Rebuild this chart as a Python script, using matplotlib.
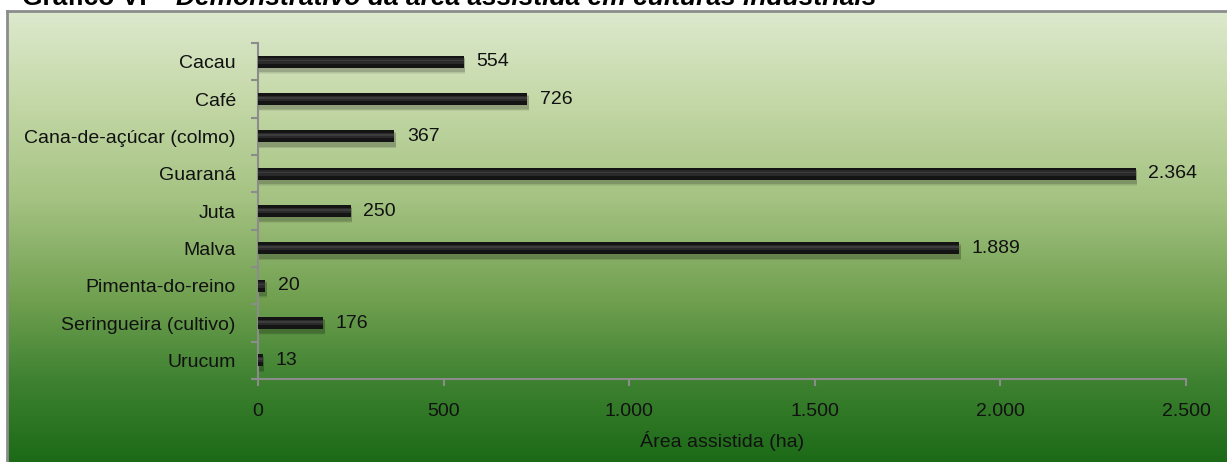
import numpy as np
import matplotlib
matplotlib.use("Agg")
import matplotlib.pyplot as plt
from matplotlib.colors import LinearSegmentedColormap

categories = ["Cacau", "Café", "Cana-de-açúcar (colmo)", "Guaraná", "Juta",
              "Malva", "Pimenta-do-reino", "Seringueira (cultivo)", "Urucum"]
values = [554, 726, 367, 2364, 250, 1889, 20, 176, 13]
xticks = [0, 500, 1000, 1500, 2000, 2500]
xlabel = "Área assistida (ha)"
title_a = "Gráfico VI – "
title_b = "Demonstrativo da área assistida em culturas industriais"

plt.rcParams['font.family'] = ["Liberation Sans", 'DejaVu Sans']

def fmt(v):
    return f"{v:,}".replace(",", ".")

W, H = 1227, 462
fig = plt.figure(figsize=(W / 100, H / 100), dpi=100)
fig.patch.set_facecolor("white")

# gradient background frame
bx0, by1 = 7 / W, 1 - 11 / H
bg = fig.add_axes([bx0, 0, 1 - bx0, by1], zorder=0)
cmap = LinearSegmentedColormap.from_list(
    "g", [(0, "#dde9cd"), (0.2, "#c4d8a7"), (0.42, "#a4c281"),
          (0.64, "#70a050"), (0.82, "#3e8231"), (1.0, "#1c6a17")])
grad = np.linspace(0, 1, 256).reshape(-1, 1)
bg.imshow(grad, aspect="auto", cmap=cmap, extent=[0, 1, 0, 1], origin="upper")
bg.set_xlim(0, 1); bg.set_ylim(0, 1)
bg.set_xticks([]); bg.set_yticks([])
for s in ["right", "bottom"]:
    bg.spines[s].set_visible(False)
for s in ["left", "top"]:
    bg.spines[s].set_color("#8c8c8c")
    bg.spines[s].set_linewidth(2)

ax = fig.add_axes([258 / W, 1 - 379 / H, (1186 - 258) / W, (379 - 43) / H], zorder=2)
ax.patch.set_alpha(0)
n = len(categories)
y = np.arange(n)
ax.set_ylim(n - 0.5, -0.5)
ax.set_xlim(0, 2500)

h = 0.32
# soft shadow
for k, a in enumerate([0.06, 0.06, 0.07, 0.08]):
    ax.barh(y + 0.1, values, height=h + 0.12 - 0.03 * k, left=4, color="black",
            alpha=a, zorder=2, linewidth=0)
ax.barh(y, values, height=h, color="#141414", zorder=3, linewidth=0)
ax.barh(y - 0.02, values, height=h * 0.45, color="#2a2a2a", zorder=4, linewidth=0)
ax.barh(y - 0.03, values, height=h * 0.15, color="#3c3c3c", zorder=5, linewidth=0)

fs = 14
tc = "#111111"
for yi, v in zip(y, values):
    ax.annotate(fmt(v), (v, yi), xytext=(9, 0), textcoords="offset points",
                ha="left", va="center", fontsize=fs, color=tc)

ax.set_yticks(np.arange(n + 1) - 0.5, minor=False)
ax.set_yticklabels([])
ax.set_yticks(y, minor=True)
ax.set_yticklabels(categories, minor=True, fontsize=fs, color=tc)
ax.tick_params(axis="y", which="minor", length=0, pad=16)
ax.tick_params(axis="y", which="major", length=5, width=1.5, color="#8c8c8c", direction="out")
ax.set_xticks(xticks)
ax.set_xticklabels([fmt(t) for t in xticks], fontsize=fs, color=tc)
ax.tick_params(axis="x", length=5, width=1.5, color="#8c8c8c", direction="out", pad=12)
ax.set_xlabel(xlabel, fontsize=fs, color=tc, labelpad=8)
for s in ["top", "right"]:
    ax.spines[s].set_visible(False)
for s in ["left", "bottom"]:
    ax.spines[s].set_color("#8c8c8c")
    ax.spines[s].set_linewidth(1.5)

# title, partly cut at the top as in the reference
tb = 1 - 5 / H
t1 = fig.text(22 / W, tb, title_a, fontsize=19, fontweight="bold",
              va="baseline", ha="left", color="black")
fig.canvas.draw()
bb = t1.get_window_extent()
fig.text(bb.x1 / W, tb, title_b, fontsize=19, fontweight="bold", style="italic",
         va="baseline", ha="left", color="black")

fig.savefig("out.png", dpi=100)
